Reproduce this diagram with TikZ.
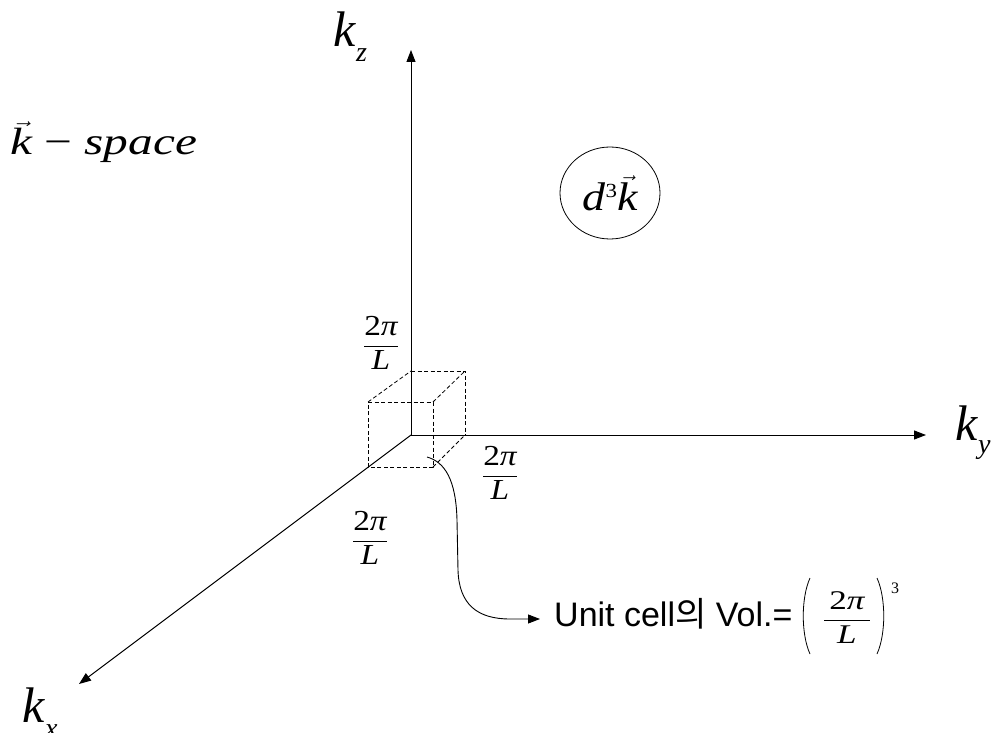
\documentclass[tikz,border=0pt]{standalone}
\usepackage{amsmath}
\usepackage{graphicx}
\usepackage{fontspec}
\setmainfont{Liberation Serif}
\setsansfont{Liberation Sans}
\newfontfamily\krfont{Noto Sans CJK KR}
\usetikzlibrary{arrows.meta,shapes.geometric}
\newcommand{\tpfrac}{\scalebox{1.15}[1]{$\dfrac{\textrm{2}\textit{π}}{\textit{L}}$}}
\begin{document}
\begin{tikzpicture}[x=1pt,y=-1pt,
  axis/.style={line width=1pt,-{Triangle[length=12pt,width=9pt]}},
  cubeedge/.style={line width=0.8pt,dash pattern=on 4pt off 2.5pt},
  conn/.style={line width=0.9pt,-{Triangle[length=12pt,width=9pt]}},
  lbl/.style={inner sep=0pt,anchor=base west,font=\fontsize{50}{50}\selectfont},
  frc/.style={inner sep=0pt,font=\fontsize{29}{29}\selectfont}]
\useasboundingbox (0,0) rectangle (997,733);
% axes
\coordinate (O) at (411,435);
\coordinate (zt) at (411,50);
\coordinate (yt) at (926,435);
\coordinate (xt) at (79,684);
\draw[axis] (O) -- (zt);
\draw[axis] (O) -- (yt);
\draw[axis] (O) -- (xt);
% axis labels
\node[lbl] (kz) at (333,47) {\textit{k}\raisebox{-15pt}{\fontsize{28}{28}\selectfont\textit{z}}};
\node[lbl] (ky) at (955,440) {\textit{k}\raisebox{-13pt}{\fontsize{28}{28}\selectfont\textit{y}}};
\node[lbl] (kx) at (22,722) {\textit{k}\raisebox{-15pt}{\fontsize{28}{28}\selectfont\textit{x}}};
% k-space
\node[inner sep=0pt,anchor=base west] (ks) at (10,155)
  {\scalebox{1.3}[1]{\fontsize{38}{38}\selectfont$\vec{\textit{k}}$ − \textit{space}}};
% d^3 k
\node[ellipse,draw,line width=0.8pt,minimum width=100pt,minimum height=92pt,inner sep=0pt] (dk) at (610,193)
  {\scalebox{1.15}[1]{\fontsize{40}{40}\selectfont\textit{d}\raisebox{13pt}{\fontsize{20}{20}\selectfont 3}$\vec{\textit{k}}$}};
% cube
\coordinate (A) at (368,402);
\coordinate (B) at (433,402);
\coordinate (C) at (433,467);
\coordinate (D) at (368,467);
\coordinate (E) at (411,371);
\coordinate (F) at (465,371);
\coordinate (G) at (465,435);
\draw[cubeedge] (A) -- (B) -- (C) -- (D) -- cycle;
\draw[cubeedge] (E) -- (F) -- (G);
\draw[cubeedge] (A) -- (E);
\draw[cubeedge] (B) -- (F);
\draw[cubeedge] (C) -- (G);
% fractions
\node[frc] (f1) at (381,343) {\tpfrac};
\node[frc] (f2) at (500,473) {\tpfrac};
\node[frc] (f3) at (370,538) {\tpfrac};
% connector to volume text
\coordinate (cs) at (427,457);
\coordinate (ce) at (540,619);
\draw[conn] (cs) .. controls (445,462) and (456,480) .. (457,520) -- (458,570)
  .. controls (459,605) and (478,619) .. (510,619) -- (ce);
\node[inner sep=0pt,anchor=base west,font=\sffamily\fontsize{34}{34}\selectfont] (vol) at (554,626)
  {Unit cell{\krfont 의} Vol.=};
% (2pi/L)^3
\node[inner sep=0pt,font=\fontsize{27}{27}\selectfont] (f4) at (847,618)
  {\scalebox{1.3}[1]{$\dfrac{\,\textrm{2}\textit{π}\,}{\textit{L}}$}};
\draw[line width=0.8pt] (810,578) .. controls (801,598) and (801,634) .. (810,654);
\draw[line width=0.8pt] (877,578) .. controls (886,598) and (886,634) .. (877,654);
\node[inner sep=0pt,anchor=base west,font=\fontsize{16}{16}\selectfont] (e3) at (891,593) {3};
\end{tikzpicture}
\end{document}
